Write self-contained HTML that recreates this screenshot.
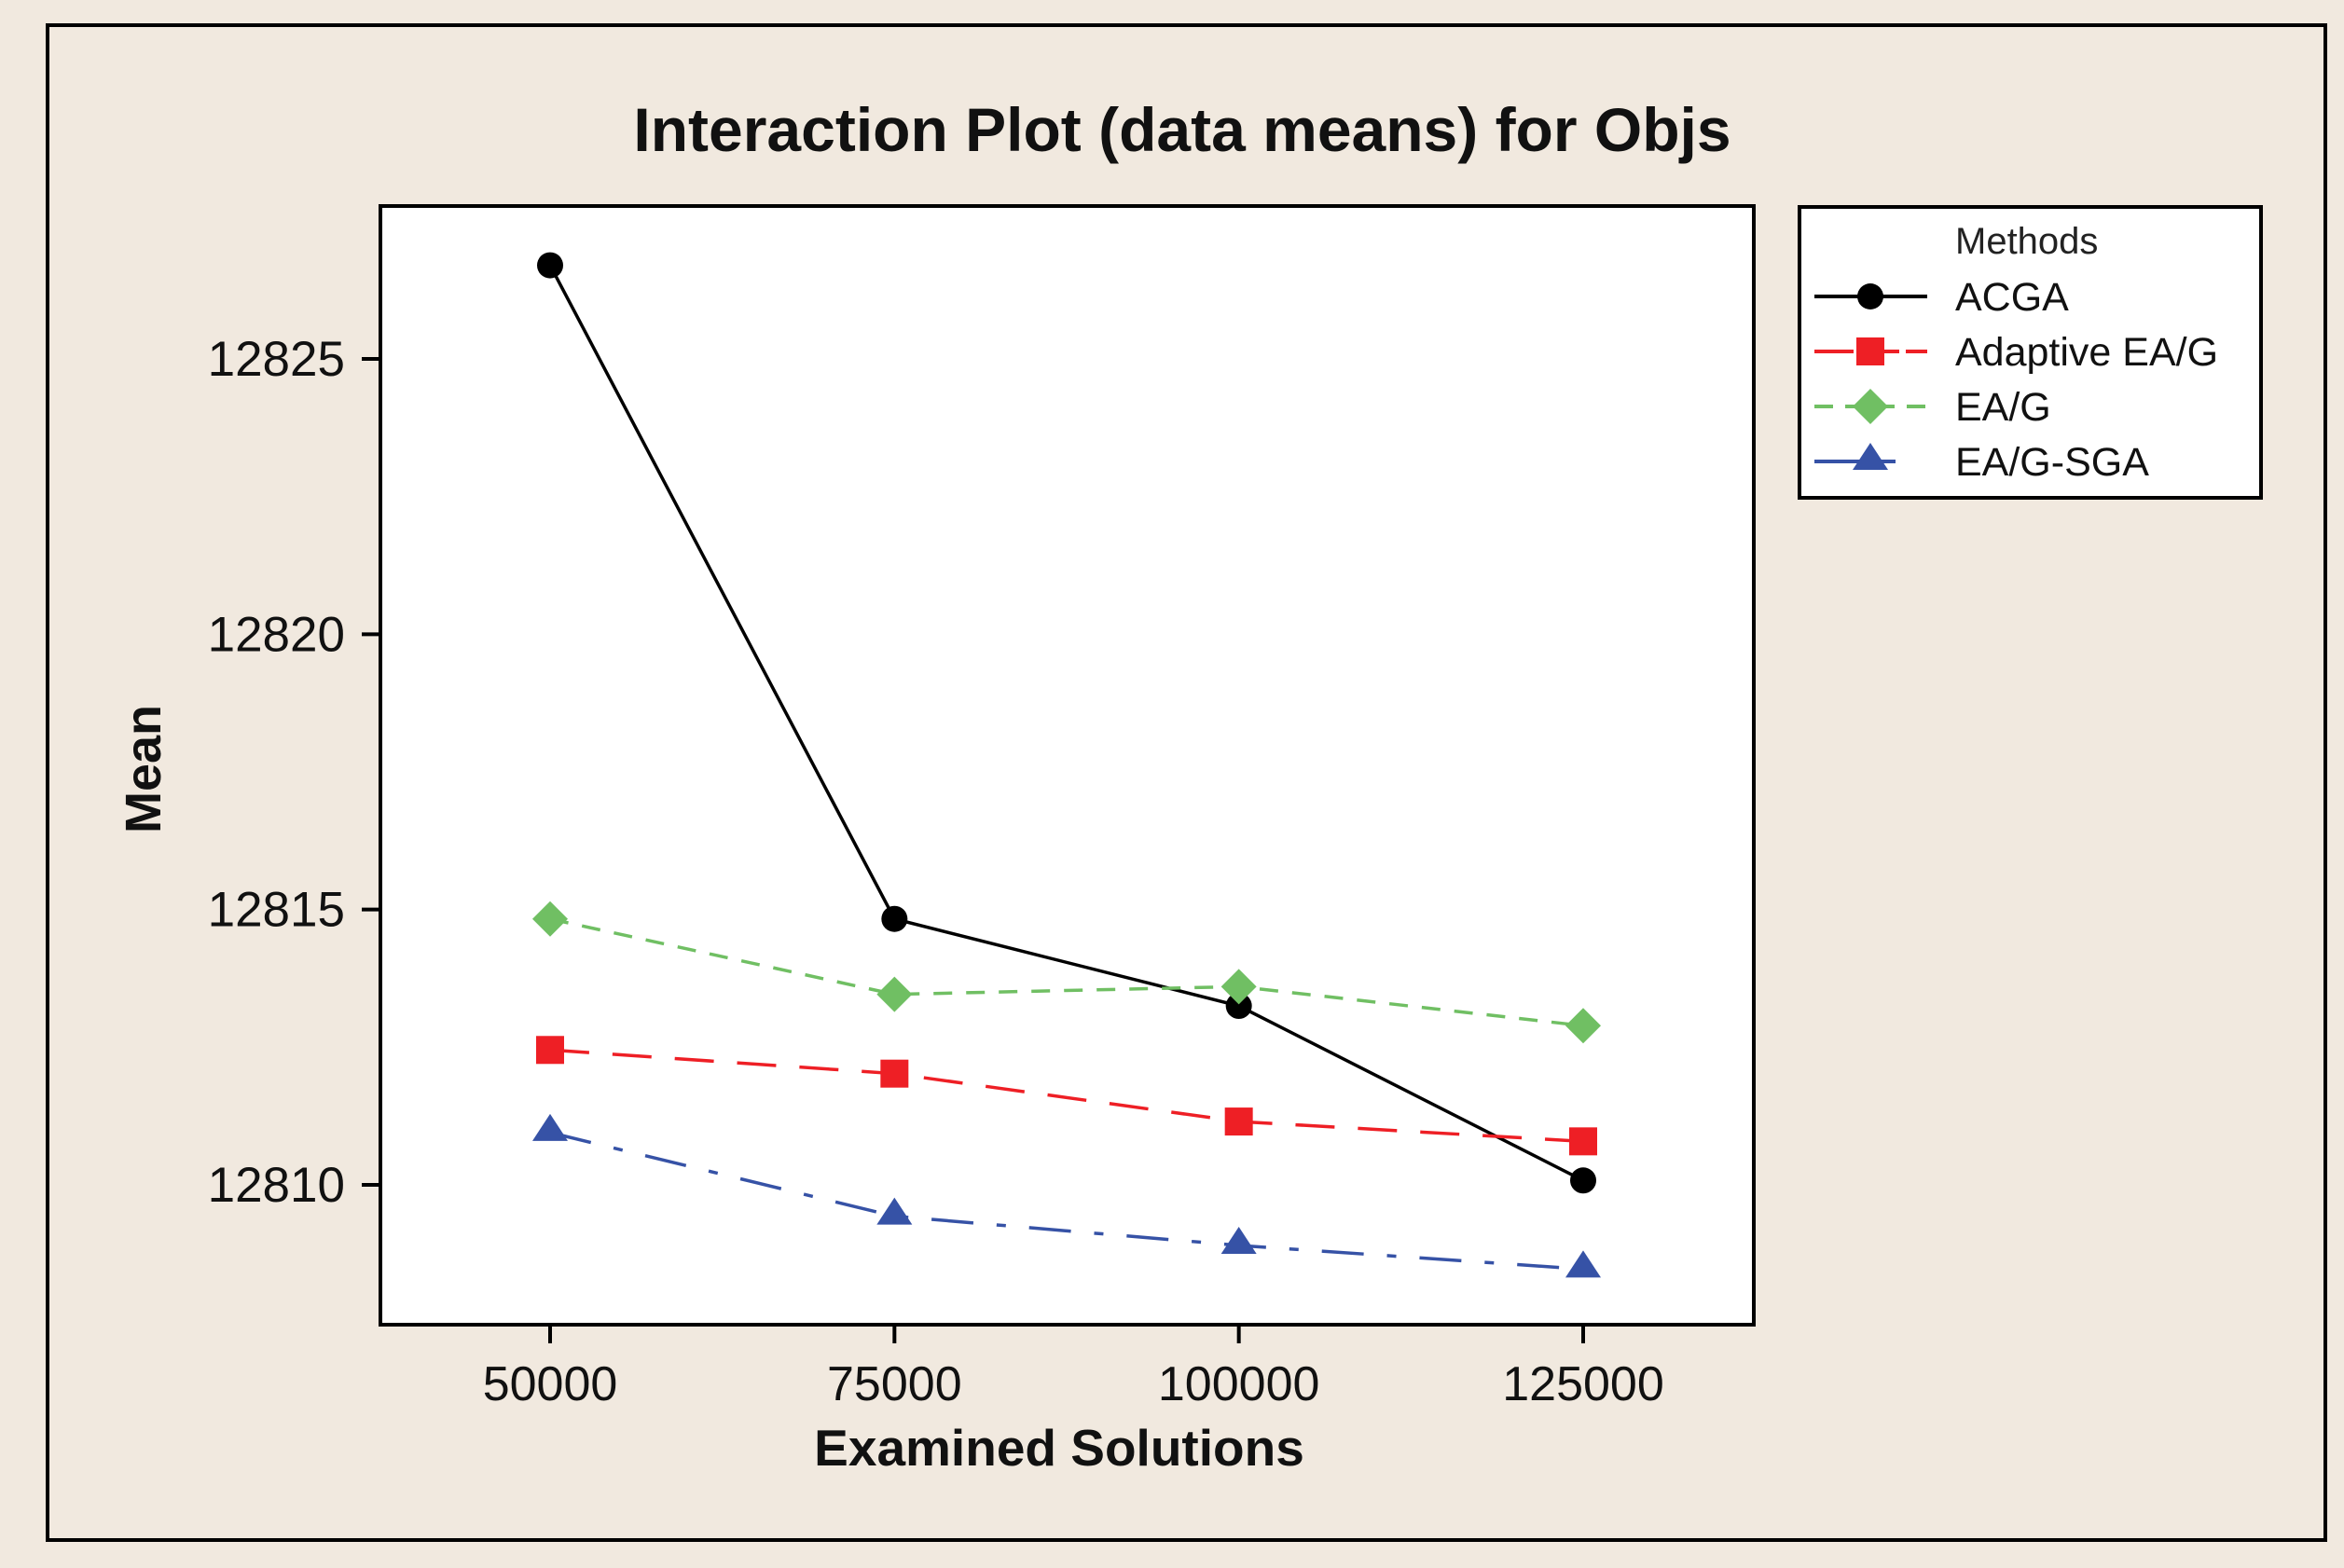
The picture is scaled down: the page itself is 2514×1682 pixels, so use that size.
<!DOCTYPE html>
<html><head><meta charset="utf-8"><style>
html,body{margin:0;padding:0;background:#f1e9df;}
svg{display:block;font-family:"Liberation Sans",sans-serif;}
</style></head><body>
<svg id="chart" width="2514" height="1682" viewBox="0 0 2514 1682">
<rect x="0" y="0" width="2514" height="1682" fill="#f1e9df"/>
<rect x="51" y="27" width="2443" height="1625" fill="none" stroke="#000" stroke-width="4"/>
<text x="1268" y="162" text-anchor="middle" font-size="66" font-weight="bold" fill="#111">Interaction Plot (data means) for Objs</text>
<rect x="408" y="221" width="1473" height="1200" fill="#fff" stroke="#000" stroke-width="4"/>
<g id="axes"></g>
<g id="series"></g>
<text x="1136" y="1572" text-anchor="middle" font-size="55" font-weight="bold" fill="#111">Examined Solutions</text>
<text transform="translate(172,825) rotate(-90)" text-anchor="middle" font-size="54" font-weight="bold" fill="#111">Mean</text>
<g>
<rect x="1930" y="222" width="495" height="312" fill="#fff" stroke="#000" stroke-width="4"/>
<text x="2097" y="272" font-size="40" fill="#222">Methods</text>
<g id="legend-items"></g>
</g>
</svg>
<script>
const categories=[50000,75000,100000,125000];
const xTickLabels=["50000","75000","100000","125000"];
const yTicks=[12810,12815,12820,12825];
const seriesNames=["ACGA","Adaptive EA/G","EA/G","EA/G-SGA"];
const acga=[12826.7,12814.83,12813.25,12810.08];
const adaptive=[12812.45,12812.02,12811.15,12810.79];
const eag=[12814.83,12813.46,12813.6,12812.89];
const sga=[12810.95,12809.43,12808.9,12808.47];
const NS="http://www.w3.org/2000/svg";
function xs(v){return 590+(v-50000)*(1108/75000);}
function ys(v){return 1271-(v-12810)*(886/15);}
function mk(tag,attrs,parent){const e=document.createElementNS(NS,tag);for(const k in attrs)e.setAttribute(k,attrs[k]);parent.appendChild(e);return e;}
const axes=document.getElementById('axes');
yTicks.forEach(t=>{
  const l=mk('line',{x1:388,x2:408,y1:ys(t),y2:ys(t),stroke:'#000','stroke-width':4},axes);
  
  
  const tx=mk('text',{x:370,y:ys(t)+18,'text-anchor':'end','font-size':53,fill:'#111'},axes);
  tx.textContent=String(t);
  
  
});
categories.forEach((c,i)=>{
  const l=mk('line',{x1:xs(c),x2:xs(c),y1:1421,y2:1441,stroke:'#000','stroke-width':4},axes);
  
  
  const tx=mk('text',{x:xs(c),y:1502,'text-anchor':'middle','font-size':52,fill:'#111'},axes);
  tx.textContent=xTickLabels[i];
  
  
});
const styles=[
  {vals:acga,color:'#000',dash:'',marker:'circle'},
  {vals:adaptive,color:'#ee1f25',dash:'42 25',marker:'square'},
  {vals:eag,color:'#70bf63',dash:'20 15',marker:'diamond'},
  {vals:sga,color:'#3652a6',dash:'45 25 10 25',marker:'triangle'}
];
function marker(g,type,x,y,color){
  let e;
  if(type==='circle')e=mk('circle',{cx:x,cy:y,r:14,fill:color},g);
  else if(type==='square')e=mk('rect',{x:x-15,y:y-15,width:30,height:30,fill:color},g);
  else if(type==='diamond')e=mk('polygon',{points:`${x},${y-19} ${x+19},${y} ${x},${y+19} ${x-19},${y}`,fill:color},g);
  else e=mk('polygon',{points:`${x},${y-20} ${x+19},${y+9} ${x-19},${y+9}`,fill:color},g);
  return e;
}
const sg=document.getElementById('series');
styles.forEach((s,si)=>{
  const g=mk('g',{},sg);
  
  
  const pts=s.vals.map((v,i)=>xs(categories[i])+','+ys(v)).join(' ');
  const pl=mk('polyline',{points:pts,fill:'none',stroke:s.color,'stroke-width':3.5,'stroke-dasharray':s.dash},g);
  
  
  s.vals.forEach((v,i)=>{
    const m=marker(g,s.marker,xs(categories[i]),ys(v),s.color);
    
    
  });
});
const lg=document.getElementById('legend-items');
const ly=[318,377,436,495];
styles.forEach((s,i)=>{
  const g=mk('g',{},lg);
  
  
  mk('line',{x1:1946,x2:2067,y1:ly[i],y2:ly[i],stroke:s.color,'stroke-width':4,'stroke-dasharray':s.dash?(i===1?'42 7':i===2?'20 13':'53 18 16'):''},g);
  marker(g,s.marker,2006,ly[i],s.color);
  const t=mk('text',{x:2097,y:ly[i]+15,'font-size':43,fill:'#111'},g);
  t.textContent=seriesNames[i];
});
</script>
</body></html>
